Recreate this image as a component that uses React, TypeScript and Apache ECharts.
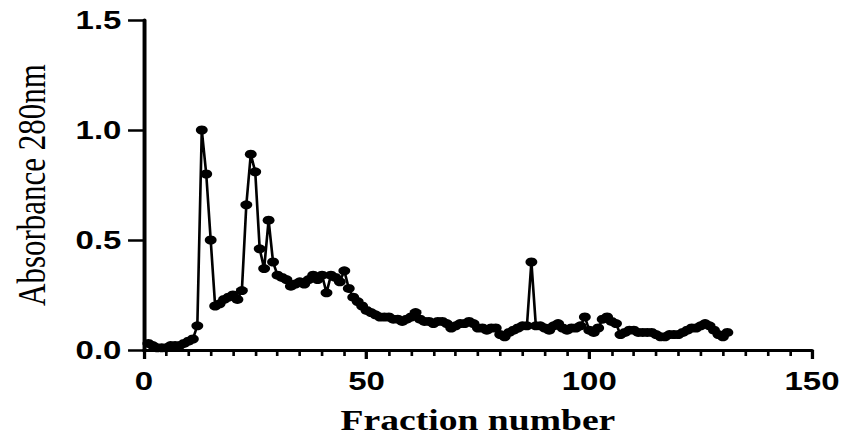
import React, { useEffect, useRef } from "react";
import * as echarts from "echarts";

// Absorbance at 280 nm for fractions 1..131
const absorbance: number[] = [
  0.03, 0.02, 0.01, 0.01, 0.01, 0.02, 0.02, 0.02, 0.03, 0.04,
  0.05, 0.11, 1.0, 0.8, 0.5, 0.2, 0.21, 0.23, 0.24, 0.25,
  0.23, 0.27, 0.66, 0.89, 0.81, 0.46, 0.37, 0.59, 0.4, 0.34,
  0.33, 0.32, 0.29, 0.3, 0.31, 0.3, 0.32, 0.34, 0.32, 0.34,
  0.26, 0.34, 0.33, 0.31, 0.36, 0.28, 0.24, 0.22, 0.2, 0.18,
  0.17, 0.16, 0.15, 0.15, 0.15, 0.14, 0.14, 0.13, 0.14, 0.15,
  0.17, 0.14, 0.13, 0.13, 0.12, 0.13, 0.13, 0.12, 0.1, 0.11,
  0.12, 0.12, 0.13, 0.12, 0.1, 0.1, 0.09, 0.1, 0.1, 0.07,
  0.06, 0.08, 0.09, 0.1, 0.11, 0.11, 0.4, 0.11, 0.11, 0.1,
  0.09, 0.11, 0.12, 0.1, 0.09, 0.1, 0.1, 0.11, 0.15, 0.09,
  0.08, 0.1, 0.14, 0.15, 0.13, 0.12, 0.07, 0.08, 0.09, 0.09,
  0.08, 0.08, 0.08, 0.08, 0.07, 0.06, 0.06, 0.07, 0.07, 0.07,
  0.08, 0.09, 0.1, 0.1, 0.11, 0.12, 0.11, 0.09, 0.07, 0.06,
  0.08,
];

const xTicks = { min: 0, max: 150, interval: 50 };
const yTicks = { min: 0, max: 1.5, interval: 0.5 };

const xTitle = "Fraction number";
const yTitle = "Absorbance 280nm";

const STRETCH = 1.32;
const W = 851 / STRETCH;
const H = 444;

export default function App() {
  const ref = useRef<HTMLDivElement>(null);

  useEffect(() => {
    if (!ref.current) return;
    const chart = echarts.init(ref.current, undefined, { renderer: "svg", width: W, height: H });
    const data = absorbance.map((v, i) => [i + 1, v]);
    const labelFont = {
      fontFamily: "Liberation Sans, Arial, sans-serif",
      fontWeight: "bold" as const,
      fontSize: 25,
      color: "#000",
    };
    chart.setOption({
      animation: false,
      backgroundColor: "#fff",
      grid: { left: 134 / STRETCH, right: W - 812 / STRETCH, top: 20, bottom: 94 },
      xAxis: {
        type: "value",
        min: xTicks.min,
        max: xTicks.max,
        interval: xTicks.interval,
        name: xTitle,
        nameLocation: "middle",
        nameGap: 56,
        nameTextStyle: {
          fontFamily: "Liberation Serif, Times New Roman, serif",
          fontWeight: "bold",
          fontSize: 28.5,
          color: "#000",
        },
        axisLine: { show: true, onZero: false, lineStyle: { color: "#000", width: 3 } },
        axisTick: { show: true, inside: false, length: 9, lineStyle: { color: "#000", width: 2.5 } },
        minorTick: { show: true, splitNumber: 10, length: 6, lineStyle: { color: "#000", width: 2 } },
        axisLabel: { ...labelFont, margin: 19 },
        splitLine: { show: false },
        minorSplitLine: { show: false },
      },
      yAxis: {
        type: "value",
        min: yTicks.min,
        max: yTicks.max,
        interval: yTicks.interval,
        name: yTitle,
        nameLocation: "middle",
        nameGap: 70,
        nameRotate: 90,
        nameTextStyle: {
          fontFamily: "Liberation Serif, Times New Roman, serif",
          fontSize: 31,
          color: "#000",
        },
        axisLine: { show: true, lineStyle: { color: "#000", width: 3 } },
        axisTick: { show: true, inside: false, length: 12, lineStyle: { color: "#000", width: 2.5 } },
        axisLabel: {
          ...labelFont,
          margin: 17,
          formatter: (v: number) => v.toFixed(1),
        },
        splitLine: { show: false },
      },
      series: [
        {
          type: "line",
          data,
          symbol: "circle",
          symbolSize: 9,
          showSymbol: true,
          lineStyle: { color: "#000", width: 2 },
          itemStyle: { color: "#000" },
          clip: false,
        },
      ],
    });
    return () => chart.dispose();
  }, []);

  return (
    <div
      style={{
        position: "fixed",
        left: 0,
        top: 0,
        width: 851,
        height: H,
        overflow: "hidden",
        background: "#fff",
      }}
    >
      <div
        ref={ref}
        style={{
          width: W,
          height: H,
          transform: `scaleX(${STRETCH})`,
          transformOrigin: "0 0",
        }}
      />
    </div>
  );
}
